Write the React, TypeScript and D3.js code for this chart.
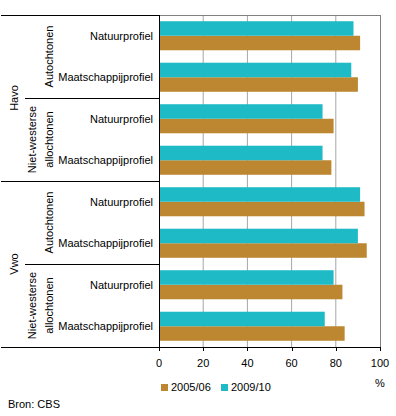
import React from "react";
import * as d3 from "d3";

const levels = ["Havo", "Vwo"];
const origins = [["Autochtonen"], ["Niet-westerse", "allochtonen"]];
const profiles = ["Natuurprofiel", "Maatschappijprofiel"];
const seriesNames = ["2005/06", "2009/10"];
const values2005 = [91, 90, 79, 78, 93, 94, 83, 84];
const values2009 = [88, 87, 74, 74, 91, 90, 79, 75];
const xTicks = [0, 20, 40, 60, 80, 100];

const W = 396, H = 416;
const colors: Record<string, string> = { "2005/06": "#BD8631", "2009/10": "#1EBBC6" };
const FONT = "'Liberation Sans', Arial, sans-serif";

export default function App() {
  const left = 159, right = 380, top = 15, bottom = 347;
  const rows = d3.range(values2005.length);
  const x = d3.scaleLinear().domain([0, 100]).range([left, right]);
  const y = d3.scaleBand<number>().domain(rows).range([top, bottom]).paddingInner(0.3).paddingOuter(0.15);
  const sub = d3.scaleBand<string>().domain(["2009/10", "2005/06"]).range([0, y.bandwidth()]);
  const step = y.step();
  const rowTop = (i: number) => top + i * step;
  const rowLabel = (i: number) => profiles[i % profiles.length];
  const valuesFor: Record<string, number[]> = { "2005/06": values2005, "2009/10": values2009 };
  const perOrigin = profiles.length;
  const perLevel = profiles.length * origins.length;

  return (
    <svg width={W} height={H} style={{ position: "absolute", left: 0, top: 0 }} fontFamily={FONT}>
      <rect width={W} height={H} fill="#fff" />
      {xTicks.slice(1, -1).map((t) => (
        <line key={t} x1={x(t)} x2={x(t)} y1={top} y2={bottom} stroke="#A6A6A6" strokeWidth={1} />
      ))}
      <line x1={left} x2={right} y1={top + 0.5} y2={top + 0.5} stroke="#808080" />
      <line x1={right + 0.5} x2={right + 0.5} y1={top} y2={bottom} stroke="#808080" />
      {seriesNames.map((s) =>
        rows.map((i) => (
          <rect
            key={s + i}
            x={x(0)}
            y={(y(i) as number) + (sub(s) as number)}
            width={x(valuesFor[s][i]) - x(0)}
            height={sub.bandwidth()}
            fill={colors[s]}
          />
        ))
      )}
      <line x1={1} x2={left} y1={top + 0.5} y2={top + 0.5} stroke="#000" />
      {levels.map((_, li) => (
        <g key={li}>
          <line x1={1} x2={left} y1={Math.round(rowTop((li + 1) * perLevel)) + 0.5} y2={Math.round(rowTop((li + 1) * perLevel)) + 0.5} stroke="#000" />
          <line x1={25} x2={left} y1={Math.round(rowTop(li * perLevel + perOrigin)) + 0.5} y2={Math.round(rowTop(li * perLevel + perOrigin)) + 0.5} stroke="#000" />
        </g>
      ))}
      <line x1={1} x2={right + 1} y1={bottom + 0.5} y2={bottom + 0.5} stroke="#000" />
      <line x1={left + 0.5} x2={left + 0.5} y1={top} y2={bottom + 4} stroke="#000" />
      {xTicks.map((t) => (
        <g key={t}>
          <line x1={Math.round(x(t)) + 0.5} x2={Math.round(x(t)) + 0.5} y1={bottom} y2={bottom + 4} stroke="#000" />
          <text x={x(t)} y={bottom + 20} textAnchor="middle" fontSize={11}>{t}</text>
        </g>
      ))}
      <text x={right} y={bottom + 40} textAnchor="middle" fontSize={11}>%</text>
      {rows.map((i) => (
        <text key={i} x={153} y={(y(i) as number) + y.bandwidth() / 2} dy="0.35em" textAnchor="end" fontSize={11}>
          {rowLabel(i)}
        </text>
      ))}
      {levels.map((_, li) =>
        origins.map((o, oi) => {
          const y0 = rowTop(li * perLevel + oi * perOrigin);
          const cy = y0 + (step * perOrigin) / 2;
          const n = o.length;
          return (
            <text key={li + "-" + oi} transform={`translate(53,${cy}) rotate(-90)`} fontSize={11} textAnchor="middle">
              {o.map((line, k) => (
                <tspan key={k} x={0} y={(k - (n - 1)) * 17}>{line}</tspan>
              ))}
            </text>
          );
        })
      )}
      {levels.map((l, li) => {
        const cy = rowTop(li * perLevel) + (step * perLevel) / 2;
        return (
          <text key={l} transform={`translate(18,${cy}) rotate(-90)`} textAnchor="middle" fontSize={11}>{l}</text>
        );
      })}
      {seriesNames.map((s, k) => (
        <g key={s} transform={`translate(${161 + k * 60},384)`}>
          <rect x={0} y={0} width={7} height={7} fill={colors[s]} />
          <text x={10} y={3.5} dy="0.35em" fontSize={11}>{s}</text>
        </g>
      ))}
      <text x={8} y={404} dy="0.35em" fontSize={11}>Bron: CBS</text>
    </svg>
  );
}
